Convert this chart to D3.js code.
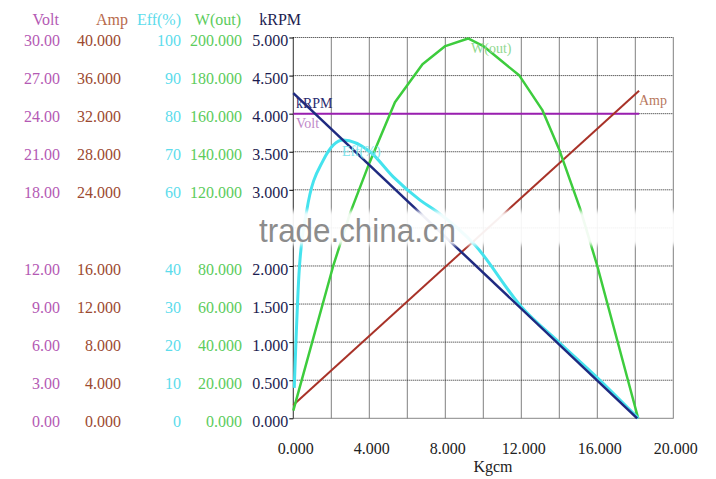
<!DOCTYPE html>
<html>
<head>
<meta charset="utf-8">
<script src="https://cdn.jsdelivr.net/npm/d3@7"></script>
<style>
html,body{margin:0;padding:0;background:#fff;}
svg{display:block;}
</style>
</head>
<body>
<svg id="chart" width="716" height="479"></svg>
<script>
// ---- data ----
const xTicks = [0, 4, 8, 12, 16, 20];
const kRPMTicks = [0, 0.5, 1, 1.5, 2, 3, 3.5, 4, 4.5, 5];
const voltTicks = [0, 3, 6, 9, 12, 18, 21, 24, 27, 30];
const ampTicks = [0, 4, 8, 12, 16, 24, 28, 32, 36, 40];
const effTicks = [0, 10, 20, 30, 40, 60, 70, 80, 90, 100];
const wTicks = [0, 20, 40, 60, 80, 120, 140, 160, 180, 200];

const kRPMData = [[0, 4.27], [18.1, 0]];
const voltData = [[0, 24], [18.2, 24]];
const ampData = [[0, 1.4], [18.2, 34.4]];
const effData = [[0.05, 8], [0.3, 38], [0.7, 54.3], [1.58, 67.8], [2.63, 73.1], [4.04, 70],
  [5.26, 63.4], [6.67, 57.3], [7.55, 54.3], [9.56, 45.5], [12.0, 29.3], [14.04, 19.7], [16.14, 10], [18.16, 0]];
const wData = [[0, 4], [2.1, 80], [3.0, 108], [4.0, 134], [5.35, 166], [6.8, 186], [8.0, 195.5],
  [9.2, 199.5], [10.0, 195.5], [11.9, 180], [13.1, 162], [14.0, 141], [15.1, 110], [16.0, 80], [18.15, 0]];

// ---- layout ----
const SERIF = "'Liberation Serif','Times New Roman',serif";
const svg = d3.select("#chart");
const X0 = 293.3, X1 = 673.3, Y0 = 418.3, Y1 = 37.5;
const x = d3.scaleLinear().domain([0, 20]).range([X0, X1]);
const yK = d3.scaleLinear().domain([0, 5]).range([Y0, Y1]);
const yV = d3.scaleLinear().domain([0, 30]).range([Y0, Y1]);
const yA = d3.scaleLinear().domain([0, 40]).range([Y0, Y1]);
const yE = d3.scaleLinear().domain([0, 100]).range([Y0, Y1]);
const yW = d3.scaleLinear().domain([0, 200]).range([Y0, Y1]);

const cVolt = "#b45ab4", cAmp = "#9c4a30", cEff = "#5cdcec", cW = "#5ccc5c", cK = "#1c1c50";

// grid
const grid = svg.append("g");
grid.selectAll(".v").data(d3.range(0, 21, 2)).join("line")
  .attr("x1", d => x(d)).attr("x2", d => x(d)).attr("y1", Y1).attr("y2", Y0)
  .attr("stroke", "#000").attr("stroke-width", 1).attr("stroke-dasharray", "1,1");
grid.selectAll(".h").data(d3.range(0, 5.01, 0.5)).join("line")
  .attr("x1", X0).attr("x2", X1).attr("y1", d => yK(d)).attr("y2", d => yK(d))
  .attr("stroke", d => d === 0 ? "#888" : "#222").attr("stroke-width", 1)
  .attr("stroke-dasharray", d => d === 0 ? null : "1,1");

// left axes
function leftAxis(scale, ticks, fmt, xpos, color, tickSize) {
  const g = svg.append("g").attr("transform", `translate(${xpos},3)`)
    .call(d3.axisLeft(scale).tickValues(ticks).tickFormat(fmt).tickSize(tickSize).tickPadding(1));
  g.select(".domain").remove();
  g.selectAll("text").attr("fill", color).style("font-size", "16px").style("font-family", SERIF);
  g.selectAll("line").attr("stroke", "#000").attr("transform", "translate(0,-3)");
  return g;
}
leftAxis(yV, voltTicks, d3.format(".2f"), 61, cVolt, 0);
leftAxis(yA, ampTicks, d3.format(".3f"), 122, cAmp, 0);
leftAxis(yE, effTicks, d3.format("d"), 182, cEff, 0);
leftAxis(yW, wTicks, d3.format(".3f"), 243, cW, 0);
leftAxis(yK, kRPMTicks, d3.format(".3f"), X0, cK, 4);
svg.append("line").attr("x1", X0).attr("x2", X0).attr("y1", Y1).attr("y2", Y0)
  .attr("stroke", "#000").attr("stroke-dasharray", "1,1");

// headers
const headers = [["Volt", 59, cVolt], ["Amp", 128, "#b86a4c"], ["Eff(%)", 181, cEff], ["W(out)", 241, cW], ["kRPM", 301, cK]];
svg.selectAll(".hdr").data(headers).join("text")
  .attr("x", d => d[1]).attr("y", 25).attr("text-anchor", "end")
  .style("font-size", "16px").style("font-family", SERIF).attr("fill", d => d[2]).text(d => d[0]);

// x axis
const gx = svg.append("g").attr("transform", `translate(2,${Y0})`)
  .call(d3.axisBottom(x).tickValues(xTicks).tickFormat(d3.format(".3f")).tickSize(0).tickPadding(24));
gx.select(".domain").remove();
gx.selectAll("text").attr("fill", "#222").style("font-size", "16px").style("font-family", SERIF);
svg.append("text").attr("x", 493).attr("y", 472).attr("text-anchor", "middle")
  .style("font-size", "16px").style("font-family", SERIF).attr("fill", "#222").text("Kgcm");

// series
const series = [
  [voltData, yV, "#9a1fb0", 2, d3.curveLinear],
  [ampData, yA, "#a83228", 2, d3.curveLinear],
  [wData, yW, "#3dcc3d", 2.5, d3.curveLinear],
  [effData, yE, "#45e3ee", 3, d3.curveMonotoneX],
  [kRPMData, yK, "#1f2a80", 2.5, d3.curveLinear]
];
series.forEach(s => {
  const ln = d3.line().x(d => x(d[0])).y(d => s[1](d[1])).curve(s[4]);
  svg.append("path").datum(s[0]).attr("d", ln).attr("fill", "none")
    .attr("stroke", s[2]).attr("stroke-width", s[3]).attr("stroke-linejoin", "round");
});

// in-plot labels
const labels = [["kRPM", 296, 108, "#2a2a70"], ["Volt", 296, 128, "#c088c8"], ["Eff(%)", 342, 156, "#80e4ec"],
  ["W(out)", 471, 53, "#90d890"], ["Amp", 639, 105, "#b87860"]];
svg.selectAll(".lbl").data(labels).join("text")
  .attr("x", d => d[1]).attr("y", d => d[2]).style("font-size", "14px").style("font-family", SERIF)
  .attr("fill", d => d[3]).text(d => d[0]);

// watermark
const defs = svg.append("defs");
defs.append("filter").attr("id", "blur").append("feGaussianBlur").attr("stdDeviation", 2);
svg.append("rect").attr("x", 256).attr("y", 211).attr("width", 455).attr("height", 34)
  .attr("fill", "#fff").attr("opacity", 0.93).attr("filter", "url(#blur)");
svg.append("text").attr("x", 259).attr("y", 242)
  .style("font-size", "34px").style("font-family", "'Liberation Sans',Arial,sans-serif")
  .attr("fill", "#8c8c8c").attr("textLength", 197).attr("lengthAdjust", "spacingAndGlyphs")
  .text("trade.china.cn");
</script>
</body>
</html>
